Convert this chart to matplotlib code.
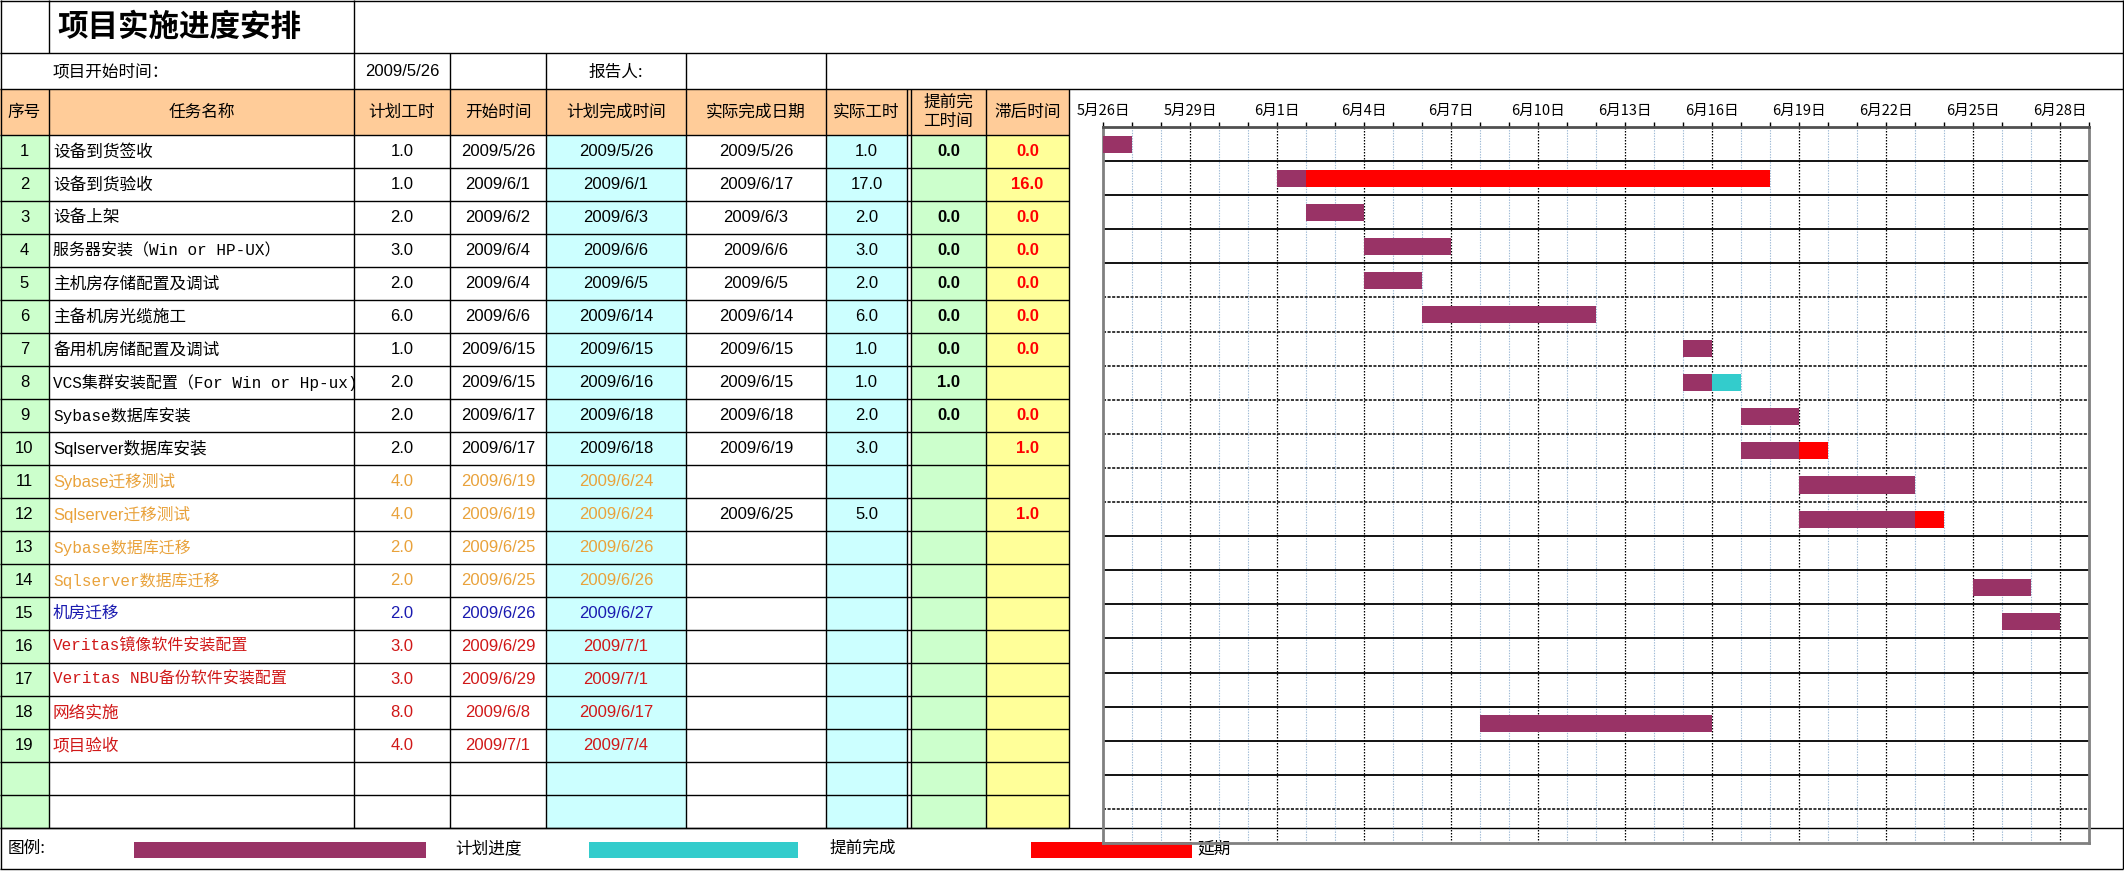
import matplotlib
matplotlib.use('Agg')
import matplotlib.pyplot as plt
import matplotlib.dates as mdates
from matplotlib.patches import Rectangle
from matplotlib.ticker import FixedLocator, FixedFormatter, NullLocator
from datetime import datetime
import numpy as np

# ---------------- data ----------------
title = '项目实施进度安排'
start_label = '项目开始时间：'
project_start = '2009/5/26'
reporter_label = '报告人:'

headers = ['序号', '任务名称', '计划工时', '开始时间', '计划完成时间',
           '实际完成日期', '实际工时', '提前完\n工时间', '滞后时间']

seq = [str(i) for i in range(1, 20)]
tasks = ['设备到货签收', '设备到货验收', '设备上架', '服务器安装（Win or HP-UX）',
         '主机房存储配置及调试', '主备机房光缆施工', '备用机房储配置及调试',
         'VCS集群安装配置（For Win or Hp-ux)', 'Sybase数据库安装', 'Sqlserver数据库安装',
         'Sybase迁移测试', 'Sqlserver迁移测试', 'Sybase数据库迁移', 'Sqlserver数据库迁移',
         '机房迁移', 'Veritas镜像软件安装配置', 'Veritas NBU备份软件安装配置',
         '网络实施', '项目验收']
task_mono = [False, False, False, True, False, False, False, True, True, False,
             False, False, True, True, False, True, True, False, False]
plan_hours = [1.0, 1.0, 2.0, 3.0, 2.0, 6.0, 1.0, 2.0, 2.0, 2.0,
              4.0, 4.0, 2.0, 2.0, 2.0, 3.0, 3.0, 8.0, 4.0]
start_dates = ['2009/5/26', '2009/6/1', '2009/6/2', '2009/6/4', '2009/6/4', '2009/6/6',
               '2009/6/15', '2009/6/15', '2009/6/17', '2009/6/17', '2009/6/19', '2009/6/19',
               '2009/6/25', '2009/6/25', '2009/6/26', '2009/6/29', '2009/6/29', '2009/6/8',
               '2009/7/1']
plan_finish = ['2009/5/26', '2009/6/1', '2009/6/3', '2009/6/6', '2009/6/5', '2009/6/14',
               '2009/6/15', '2009/6/16', '2009/6/18', '2009/6/18', '2009/6/24', '2009/6/24',
               '2009/6/26', '2009/6/26', '2009/6/27', '2009/7/1', '2009/7/1', '2009/6/17',
               '2009/7/4']
actual_finish = ['2009/5/26', '2009/6/17', '2009/6/3', '2009/6/6', '2009/6/5', '2009/6/14',
                 '2009/6/15', '2009/6/15', '2009/6/18', '2009/6/19', '', '2009/6/25',
                 '', '', '', '', '', '', '']
actual_hours = ['1.0', '17.0', '2.0', '3.0', '2.0', '6.0', '1.0', '1.0', '2.0', '3.0',
                '', '5.0', '', '', '', '', '', '', '']
early_days = ['0.0', '', '0.0', '0.0', '0.0', '0.0', '0.0', '1.0', '0.0', '',
              '', '', '', '', '', '', '', '', '']
late_days = ['0.0', '16.0', '0.0', '0.0', '0.0', '0.0', '0.0', '', '0.0', '1.0',
             '', '1.0', '', '', '', '', '', '', '']
row_text_color = ['k'] * 10 + ['#E9A23B'] * 4 + ['#1A1AB0'] + ['#D01818'] * 4

# gantt bar lengths (days)
bar_plan = [1, 1, 2, 3, 2, 6, 1, 1, 2, 2, 4, 4, 0, 2, 2, 3, 3, 8, 4]
bar_early = [0, 0, 0, 0, 0, 0, 0, 1, 0, 0, 0, 0, 0, 0, 0, 0, 0, 0, 0]
bar_late = [0, 16, 0, 0, 0, 0, 0, 0, 0, 1, 0, 1, 0, 0, 0, 0, 0, 0, 0]

tick_dates = ['2009/5/26', '2009/5/29', '2009/6/1', '2009/6/4', '2009/6/7', '2009/6/10',
              '2009/6/13', '2009/6/16', '2009/6/19', '2009/6/22', '2009/6/25', '2009/6/28']
tick_labels = ['5月26日', '5月29日', '6月1日', '6月4日', '6月7日', '6月10日',
               '6月13日', '6月16日', '6月19日', '6月22日', '6月25日', '6月28日']
axis_start, axis_end = '2009/5/26', '2009/6/29'

legend_labels = ['计划进度', '提前完成', '延期']

# ---------------- style ----------------
PURPLE, CYAN, RED = '#993366', '#33CCCC', '#FF0000'
HEAD, GREEN, LCYAN, YELLOW = '#FFCC99', '#CCFFCC', '#CCFFFF', '#FFFF99'
CJK = ['Noto Sans CJK SC', 'DejaVu Sans']
PROP = ['Liberation Sans', 'Noto Sans CJK SC']
MONO = ['Liberation Mono', 'Noto Sans CJK SC']
NUM = ['Liberation Sans']
FS = 12

W, H = 2124, 892
fig = plt.figure(figsize=(W / 100, H / 100), dpi=100)
ax = fig.add_axes([0, 0, 1, 1])
ax.set_xlim(0, W)
ax.set_ylim(H, 0)
ax.axis('off')

LW = 1.0


def hl(y, x0, x1, lw=LW, color='k'):
    ax.plot([x0, x1], [y, y], color=color, lw=lw, solid_capstyle='butt', zorder=3)


def vl(x, y0, y1, lw=LW, color='k'):
    ax.plot([x, x], [y0, y1], color=color, lw=lw, solid_capstyle='butt', zorder=3)


def fill(x0, y0, x1, y1, c):
    ax.add_patch(Rectangle((x0, y0), x1 - x0, y1 - y0, facecolor=c, edgecolor='none', zorder=1))


def txt(x, y, s, ha='center', family=CJK, size=FS, color='k', weight='normal'):
    ax.text(x, y, s, ha=ha, va='center', family=family, fontsize=size, color=color,
            weight=weight, zorder=4)


col_x = [0, 49, 354, 450, 546, 686, 826, 909, 986, 1069]
y_title0, y_row2, y_head, y_body = 1, 53, 89, 135
rh = 33
n_rows = 21
y_leg = y_body + rh * n_rows  # 828
y_bot = 869
RIGHT = 2123

# fills
fill(0, y_head, col_x[-1], y_body, HEAD)
fill(0, y_body, col_x[1], y_leg, GREEN)
fill(col_x[4], y_body, col_x[5], y_leg, LCYAN)
fill(col_x[6], y_body, 907, y_leg, LCYAN)
fill(911, y_body, col_x[8], y_leg, GREEN)
fill(col_x[8], y_body, col_x[9], y_leg, YELLOW)

# outer / structural lines
hl(y_title0, 0, RIGHT)
hl(y_row2, 0, RIGHT)
hl(y_head, 0, RIGHT)
hl(y_leg, 0, RIGHT)
hl(y_bot, 0, RIGHT)
vl(0.5, 0, y_bot)
vl(RIGHT, 0, y_bot)
vl(col_x[1], 0, y_row2)
vl(col_x[2], 0, y_row2)
for x in [354, 450, 546, 686, 826]:
    vl(x, y_row2, y_head)
for k in range(n_rows + 1):
    hl(y_body + k * rh, 0, col_x[-1])
for x in [49, 354, 450, 546, 686, 826, 907, 911, 986, 1069]:
    vl(x, y_head, y_leg)

# title rows
ax.text(57, 27, title, ha='left', va='center', family=CJK, fontsize=22, weight='bold', zorder=4)
txt(53, 72, start_label, ha='left', size=12)
txt((354 + 450) / 2, 72, project_start, family=NUM)
txt((546 + 686) / 2, 72, reporter_label, size=12)

# header
centers = [(col_x[i] + col_x[i + 1]) / 2 for i in range(len(col_x) - 1)]
centers[6] = (826 + 907) / 2
centers[7] = (911 + 986) / 2
for c, h in zip(centers, headers):
    ax.text(c, (y_head + y_body) / 2, h, ha='center', va='center', family=CJK,
            fontsize=FS, linespacing=1.15, zorder=4)

# body
for i in range(len(tasks)):
    yc = y_body + rh * i + rh / 2
    col = row_text_color[i]
    txt(centers[0], yc, seq[i], family=NUM)
    txt(53, yc, tasks[i], ha='left', family=MONO if task_mono[i] else PROP, color=col,
        size=11.5 if task_mono[i] else FS)
    txt(centers[2], yc, f'{plan_hours[i]:.1f}', family=NUM, color=col)
    txt(centers[3], yc, start_dates[i], family=NUM, color=col)
    txt(centers[4], yc, plan_finish[i], family=NUM, color=col)
    txt(centers[5], yc, actual_finish[i], family=NUM)
    txt(centers[6], yc, actual_hours[i], family=NUM)
    txt(centers[7], yc, early_days[i], family=NUM, weight='bold')
    txt(centers[8], yc, late_days[i], family=NUM, weight='bold', color=RED)

# legend row
yl = (y_leg + y_bot) / 2
txt(8, yl, '图例:', ha='left')
for (x0, x1, c), (tx, lab) in zip([(134, 426, PURPLE), (589, 798, CYAN), (1031, 1192, RED)],
                                  [(455, legend_labels[0]), (830, legend_labels[1]),
                                   (1197, legend_labels[2])]):
    ax.add_patch(Rectangle((x0, 842), x1 - x0, 16, facecolor=c, edgecolor='none', zorder=2))
    txt(tx, yl, lab, ha='left')

# ---------------- gantt ----------------
gx0, gx1, gy0, gy1 = 1103, 2089, 127, 843
gax = fig.add_axes([gx0 / W, 1 - gy1 / H, (gx1 - gx0) / W, (gy1 - gy0) / H])
gax.set_facecolor('none')


def dnum(s):
    return mdates.date2num(datetime.strptime(s, '%Y/%m/%d'))


d0, d1 = dnum(axis_start), dnum(axis_end)
gax.set_xlim(d0, d1)
gax.set_ylim(n_rows, 0)

# vertical grid
major_pos = [dnum(s) for s in tick_dates]
for d in np.arange(d0 + 1, d1):
    if any(abs(d - m) < 1e-6 for m in major_pos):
        gax.axvline(d, color='k', lw=0.9, ls=(0, (1.2, 1.2)), zorder=1)
    else:
        gax.axvline(d, color='#9DB9D5', lw=0.8, ls=(0, (1.2, 1.2)), zorder=1)

# horizontal row lines
for k in range(1, n_rows):
    if k <= 4 or 12 <= k <= 19:
        gax.axhline(k, color='k', lw=1.3, zorder=1)
    else:
        gax.axhline(k, color='k', lw=1.1, ls=(0, (2, 1)), zorder=1)

# bars
ypos = np.arange(len(tasks)) + 0.5
starts = np.array([dnum(s) for s in start_dates])
bp = np.array(bar_plan, float)
be = np.array(bar_early, float)
bl = np.array(bar_late, float)
gax.barh(ypos, bp, left=starts, height=0.5, color=PURPLE, zorder=3)
gax.barh(ypos, be, left=starts + bp, height=0.5, color=CYAN, zorder=3)
gax.barh(ypos, bl, left=starts + bp, height=0.5, color=RED, zorder=3)

# axes styling
gax.xaxis.tick_top()
gax.xaxis.set_major_locator(FixedLocator(major_pos))
gax.xaxis.set_major_formatter(FixedFormatter(tick_labels))
gax.xaxis.set_minor_locator(FixedLocator(list(np.arange(d0, d1 + 0.5))))
gax.tick_params(axis='x', which='both', direction='out', length=3.6, width=1.0,
                color='k', top=True, bottom=False)
gax.tick_params(axis='x', which='major', labelsize=10.5, pad=3)
for lab in gax.get_xticklabels():
    lab.set_family(CJK)
gax.yaxis.set_major_locator(NullLocator())
for side in ['left', 'right', 'bottom']:
    gax.spines[side].set_color('#808080')
    gax.spines[side].set_linewidth(2.0)
gax.spines['top'].set_color('#505050')
gax.spines['top'].set_linewidth(2.0)

fig.savefig('out.png', dpi=100)
